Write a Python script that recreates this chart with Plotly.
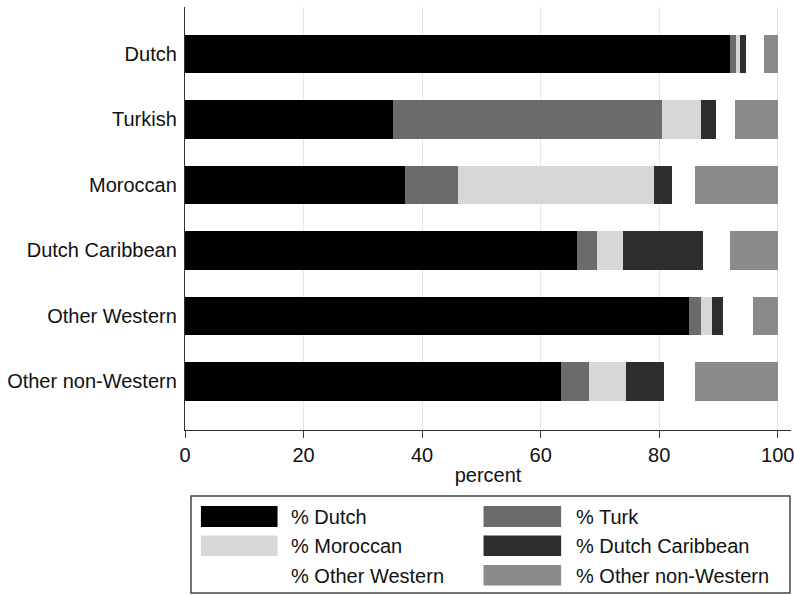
import plotly.graph_objects as go

categories = ["Dutch", "Turkish", "Moroccan", "Dutch Caribbean", "Other Western", "Other non-Western"]
series_names = ["% Dutch", "% Turk", "% Moroccan", "% Dutch Caribbean", "% Other Western", "% Other non-Western"]

pct_dutch = [92.0, 35.1, 37.1, 66.1, 85.0, 63.4]
pct_turk = [1.0, 45.4, 8.9, 3.4, 2.0, 4.8]
pct_moroccan = [0.6, 6.5, 33.1, 4.4, 1.9, 6.2]
pct_dutch_caribbean = [1.1, 2.5, 3.1, 13.4, 1.8, 6.4]
pct_other_western = [2.9, 3.3, 3.8, 4.7, 5.2, 5.2]
pct_other_non_western = [2.4, 7.2, 14.0, 8.0, 4.1, 14.0]

x_ticks = [0, 20, 40, 60, 80, 100]

series_values = [pct_dutch, pct_turk, pct_moroccan, pct_dutch_caribbean,
                 pct_other_western, pct_other_non_western]
colors = ["#000000", "#6b6b6b", "#d7d7d7", "#2e2e2e", "#ffffff", "#8a8a8a"]

W, H = 794, 595
ML, MR, MT, MB = 185, 0, 7, 165
PW, PH = W - ML - MR, H - MT - MB

FONT = "Liberation Sans, Arial, Helvetica, sans-serif"

fig = go.Figure()
for name, vals, col in zip(series_names, series_values, colors):
    fig.add_trace(go.Bar(
        y=categories, x=vals, name=name, orientation="h",
        marker=dict(color=col, line=dict(width=0)),
        width=0.59, showlegend=False,
    ))


def px_x(px):
    return (px - ML) / PW


def px_y(py):
    return (H - MB - py) / PH


shapes = []
annotations = []
# legend box
shapes.append(dict(type="rect", xref="paper", yref="paper",
                   x0=px_x(191), x1=px_x(793), y0=px_y(593), y1=px_y(496),
                   line=dict(color="#444444", width=1.5), fillcolor="rgba(0,0,0,0)"))
col_swatch_x = [(201, 278), (485, 563)]
col_text_x = [290, 576]
row_y = [(506, 527), (535.5, 556), (565, 585.5)]
for i, (name, col) in enumerate(zip(series_names, colors)):
    r, c = divmod(i, 2)
    sx0, sx1 = col_swatch_x[c]
    sy0, sy1 = row_y[r]
    shapes.append(dict(type="rect", xref="paper", yref="paper",
                       x0=px_x(sx0), x1=px_x(sx1), y0=px_y(sy1), y1=px_y(sy0),
                       line=dict(width=0), fillcolor=col))
    annotations.append(dict(xref="paper", yref="paper", x=px_x(col_text_x[c]),
                            y=px_y((sy0 + sy1) / 2 + 0.5), text=name, showarrow=False,
                            xanchor="left", yanchor="middle",
                            font=dict(family=FONT, size=20, color="#111111")))

fig.update_layout(
    width=W, height=H,
    margin=dict(l=ML, r=MR, t=MT, b=MB, pad=0),
    barmode="stack", bargap=0.41,
    plot_bgcolor="white", paper_bgcolor="white",
    font=dict(family=FONT, size=20, color="#111111"),
    shapes=shapes, annotations=annotations,
    showlegend=False,
    xaxis=dict(
        range=[0, 102.23], tickvals=x_ticks, ticktext=[str(t) for t in x_ticks],
        showgrid=True, gridcolor="#e6e6e6", gridwidth=1,
        showline=True, linecolor="#333333", linewidth=1.3,
        ticks="outside", ticklen=7, tickcolor="#333333", tickwidth=1.3,
        tickfont=dict(size=20), zeroline=False, ticklabeloverflow="allow",
        title=dict(text="percent", font=dict(size=20), standoff=2),
    ),
    yaxis=dict(
        type="category", categoryorder="array", categoryarray=categories,
        range=[5.744, -0.718], showgrid=False,
        showline=True, linecolor="#333333", linewidth=1.3,
        ticks="", tickfont=dict(size=20), ticklabelstandoff=3, zeroline=False,
    ),
)

fig.write_html(
    "out.html",
    config={"displayModeBar": False},
    post_script="document.body.style.margin='0';document.body.style.overflow='hidden';",
)
